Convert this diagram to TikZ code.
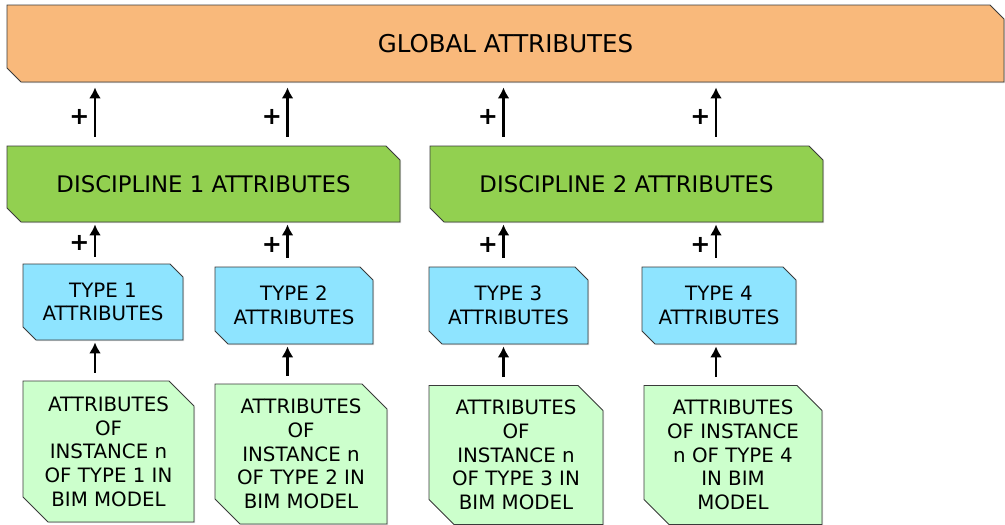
\documentclass[tikz,border=0pt]{standalone}
\usepackage{fontspec}
\setmainfont{DejaVu Sans}
\usetikzlibrary{shapes.misc,arrows.meta,shadows}
\definecolor{globfill}{HTML}{F9B97B}
\definecolor{discfill}{HTML}{92D050}
\definecolor{typefill}{HTML}{8EE4FF}
\definecolor{instfill}{HTML}{CCFFCC}
\definecolor{edge}{HTML}{3A3A3A}
\tikzstyle{snip}=[chamfered rectangle,chamfered rectangle corners={north east,south west},draw=edge,line width=0.9pt,inner sep=0pt,align=center,text=black,font=\fontsize{19.8}{23.7}\selectfont,drop shadow={shadow xshift=1.2pt,shadow yshift=-1.2pt,opacity=0.3}]
\tikzstyle{glob}=[snip,fill=globfill,chamfered rectangle sep=7pt,font=\fontsize{24.5}{28}\selectfont]
\tikzstyle{disc}=[snip,fill=discfill,chamfered rectangle sep=7pt,font=\fontsize{22.8}{26}\selectfont]
\tikzstyle{type}=[snip,fill=typefill,chamfered rectangle sep=6.5pt]
\tikzstyle{inst}=[snip,fill=instfill,chamfered rectangle sep=12.5pt]
\tikzstyle{up}=[-{Latex[length=11pt,width=12pt]},line width=2.8pt]
\tikzstyle{plus}=[left,inner sep=0pt,xshift=-4pt,font=\fontsize{24}{24}\bfseries]

\begin{document}
\begin{tikzpicture}[x=1pt,y=-1pt]
  \useasboundingbox (0,0) rectangle (1005,525);

  \node[glob,minimum width=997pt,minimum height=77pt] (G) at (505.5,43.5) {GLOBAL ATTRIBUTES};
  \node[disc,minimum width=393pt,minimum height=76pt] (D1) at (203.5,184) {DISCIPLINE 1 ATTRIBUTES};
  \node[disc,minimum width=393pt,minimum height=76pt] (D2) at (626.5,184) {DISCIPLINE 2 ATTRIBUTES};

  \node[type,minimum width=160pt,minimum height=76pt] (T1) at (103,302) {TYPE 1\\ATTRIBUTES};
  \node[type,minimum width=158pt,minimum height=77pt] (T2) at (294,305.5) {TYPE 2\\ATTRIBUTES};
  \node[type,minimum width=159pt,minimum height=77pt] (T3) at (508.5,305.5) {TYPE 3\\ATTRIBUTES};
  \node[type,minimum width=154pt,minimum height=77pt] (T4) at (719,305.5) {TYPE 4\\ATTRIBUTES};

  \node[inst,minimum width=171pt,minimum height=141pt] (I1) at (108.5,451.5) {ATTRIBUTES\\OF\\INSTANCE n\\OF TYPE 1 IN\\BIM MODEL};
  \node[inst,minimum width=172pt,minimum height=140pt] (I2) at (301,454) {ATTRIBUTES\\OF\\INSTANCE n\\OF TYPE 2 IN\\BIM MODEL};
  \node[inst,minimum width=174pt,minimum height=139pt] (I3) at (516,455) {ATTRIBUTES\\OF\\INSTANCE n\\OF TYPE 3 IN\\BIM MODEL};
  \node[inst,minimum width=178pt,minimum height=139pt] (I4) at (733,455) {ATTRIBUTES\\OF INSTANCE\\n OF TYPE 4\\IN BIM\\MODEL};

  % arrow columns
  \coordinate (a1) at (95,0); \coordinate (a2) at (287.5,0); \coordinate (a3) at (503.5,0); \coordinate (a4) at (716,0);

  \draw[up,shorten <=9pt,shorten >=5pt] (D1.north -| a1)--(G.south -| a1) node[plus,pos=0.45]{+};
  \draw[up,shorten <=9pt,shorten >=5pt] (D1.north -| a2)--(G.south -| a2) node[plus,pos=0.45]{+};
  \draw[up,shorten <=9pt,shorten >=5pt] (D2.north -| a3)--(G.south -| a3) node[plus,pos=0.45]{+};
  \draw[up,shorten <=9pt,shorten >=5pt] (D2.north -| a4)--(G.south -| a4) node[plus,pos=0.45]{+};
  %
  \draw[up,shorten <=7pt,shorten >=2pt] (T1.north -| a1)--(D1.south -| a1) node[plus,pos=0.5]{+};
  \draw[up,shorten <=9pt,shorten >=2pt] (T2.north -| a2)--(D1.south -| a2) node[plus,pos=0.5]{+};
  \draw[up,shorten <=9pt,shorten >=2pt] (T3.north -| a3)--(D2.south -| a3) node[plus,pos=0.5]{+};
  \draw[up,shorten <=9pt,shorten >=2pt] (T4.north -| a4)--(D2.south -| a4) node[plus,pos=0.5]{+};
  %
  \draw[up,shorten <=8pt,shorten >=2pt] (I1.north -| a1)--(T1.south -| a1);
  \draw[up,shorten <=8pt,shorten >=2pt] (I2.north -| a2)--(T2.south -| a2);
  \draw[up,shorten <=8pt,shorten >=2pt] (I3.north -| a3)--(T3.south -| a3);
  \draw[up,shorten <=8pt,shorten >=2pt] (I4.north -| a4)--(T4.south -| a4);

\end{tikzpicture}
\end{document}
